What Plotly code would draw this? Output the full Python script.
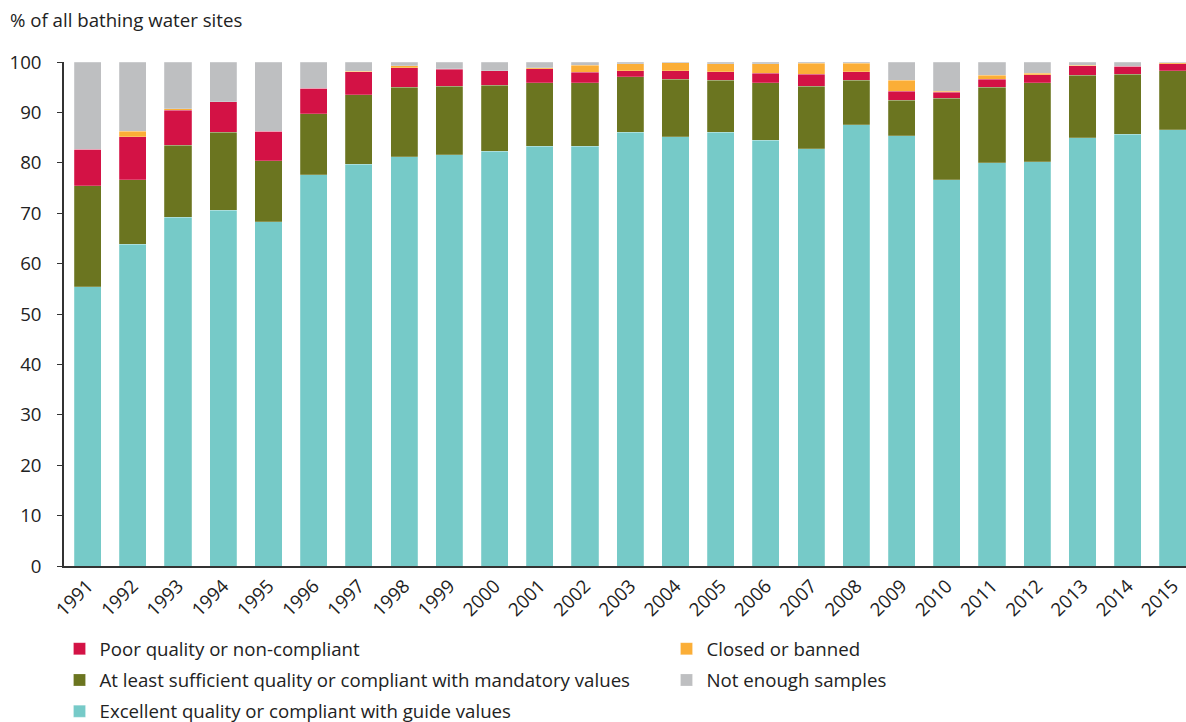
import plotly.graph_objects as go

years = [str(y) for y in range(1991, 2016)]

excellent = [55.4, 63.8, 69.2, 70.6, 68.3, 77.6, 79.7, 81.2, 81.6, 82.3, 83.3, 83.3, 86.1,
             85.2, 86.1, 84.5, 82.8, 87.6, 85.4, 76.6, 80.0, 80.2, 85.0, 85.7, 86.6]
sufficient = [20.0, 12.8, 14.3, 15.5, 12.1, 12.1, 13.8, 13.8, 13.6, 13.1, 12.6, 12.6, 11.0,
              11.4, 10.3, 11.4, 12.4, 8.8, 7.0, 16.2, 15.0, 15.7, 12.4, 11.9, 11.7]
poor = [7.3, 8.6, 6.9, 6.0, 5.9, 5.1, 4.6, 3.9, 3.4, 2.9, 2.8, 2.1, 1.2,
        1.7, 1.7, 1.9, 2.4, 1.7, 1.8, 1.2, 1.6, 1.6, 1.9, 1.6, 1.4]
closed = [0.0, 1.1, 0.3, 0.0, 0.0, 0.0, 0.1, 0.4, 0.1, 0.0, 0.2, 1.4, 1.4,
          1.6, 1.6, 1.9, 2.2, 1.7, 2.2, 0.2, 0.8, 0.3, 0.1, 0.0, 0.2]
not_enough = [17.3, 13.7, 9.3, 7.9, 13.7, 5.2, 1.8, 0.7, 1.3, 1.7, 1.1, 0.6, 0.3,
              0.1, 0.3, 0.3, 0.2, 0.2, 3.6, 5.8, 2.6, 2.2, 0.6, 0.8, 0.1]

series = [
    ("Excellent quality or compliant with guide values", excellent, "#76CAC8", "legend", 3),
    ("At least sufficient quality or compliant with mandatory values", sufficient, "#6B7520", "legend", 2),
    ("Poor quality or non-compliant", poor, "#D31245", "legend", 1),
    ("Closed or banned", closed, "#FBAE37", "legend2", 1),
    ("Not enough samples", not_enough, "#BEBFC1", "legend2", 2),
]

FONT = "Open Sans"
FS = 18.67
fig = go.Figure()
for name, vals, color, leg, rank in series:
    fig.add_trace(go.Bar(
        x=years, y=vals, name=name,
        marker=dict(color=color, line=dict(color="rgba(255,255,255,0.35)", width=0.6)),
        legend=leg, legendrank=rank, legendgroup=name,
    ))

fig.update_layout(
    width=1186, height=722,
    barmode="stack", bargap=0.4,
    plot_bgcolor="white", paper_bgcolor="white",
    margin=dict(l=64, r=0, t=62, b=156, autoexpand=False),
    font=dict(family=FONT, size=FS, color="#222222"),
    showlegend=True,
    title=dict(text="% of all bathing water sites", xref="container", yref="container",
               x=10 / 1186, y=1 - 20 / 722, xanchor="left", yanchor="middle",
               font=dict(family=FONT, size=FS, color="#222222")),
    legend=dict(orientation="v", x=-0.004, xanchor="left", y=-0.127, yanchor="top",
                font=dict(family=FONT, size=FS, color="#222222"),
                tracegroupgap=4, bgcolor="rgba(0,0,0,0)"),
    legend2=dict(orientation="v", x=0.537, xanchor="left", y=-0.127, yanchor="top",
                 font=dict(family=FONT, size=FS, color="#222222"),
                 tracegroupgap=4, bgcolor="rgba(0,0,0,0)"),
)
fig.update_xaxes(type="category", range=[-0.522, 24.29], tickangle=-45, automargin=False,
                 showline=True, linecolor="#333333", linewidth=1.5,
                 ticks="", showgrid=False, tickfont=dict(size=FS, color="#222222"))
fig.update_yaxes(range=[0, 100], dtick=10, showline=True, linecolor="#333333", linewidth=1.5,
                 automargin=False, ticklabelstandoff=12,
                 ticks="outside", ticklen=5, tickcolor="#333333", showgrid=False, zeroline=False,
                 tickfont=dict(size=FS, color="#222222"))

fig.write_html("out.html", config={"displayModeBar": False},
               post_script="document.body.style.margin='0';")
